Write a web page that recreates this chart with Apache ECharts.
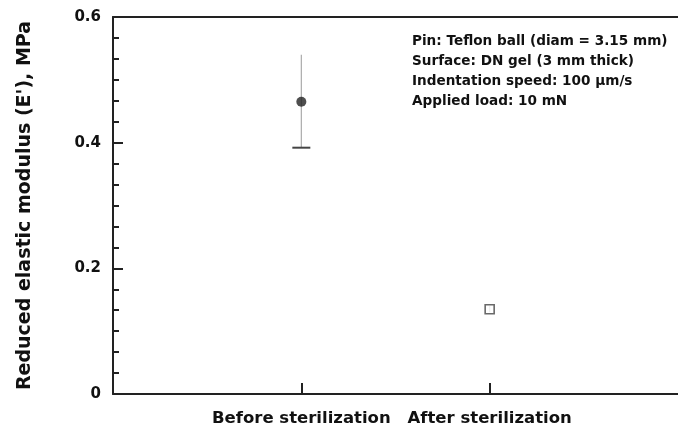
<!DOCTYPE html>
<html>
<head>
<meta charset="utf-8">
<script src="https://cdn.jsdelivr.net/npm/echarts@6/dist/echarts.min.js"></script>
<style>
html,body{margin:0;padding:0;background:#fff;}
#chart{width:678px;height:434px;}
</style>
</head>
<body>
<div id="chart"></div>
<script>
// Data
const categories = ['', 'Before sterilization', 'After sterilization', ''];
const meanValues = [0.465, 0.135];
const errLow = [0.392, 0.130];
const errHigh = [0.540, 0.140];
const yTicks = [0, 0.2, 0.4, 0.6];
const yAxisTitle = "Reduced elastic modulus (E'), MPa";
const notes = [
  'Pin: Teflon ball (diam = 3.15 mm)',
  'Surface: DN gel (3 mm thick)',
  'Indentation speed: 100 μm/s',
  'Applied load: 10 mN'
];

const font = 'DejaVu Sans, Liberation Sans, Arial, sans-serif';
const chart = echarts.init(document.getElementById('chart'), null, {renderer: 'canvas'});

const errData = meanValues.map((m, i) => [i + 1, errLow[i], errHigh[i]]);

chart.setOption({
  backgroundColor: '#fff',
  animation: false,
  grid: {left: 113, right: -2, top: 17, bottom: 40, containLabel: false},
  xAxis: [{
    type: 'category',
    data: categories,
    boundaryGap: false,
    axisLine: {lineStyle: {color: '#222', width: 2}},
    axisTick: {inside: true, length: 11, lineStyle: {color: '#222', width: 2},
      interval: (i) => i === 1 || i === 2},
    axisLabel: {interval: (i) => i === 1 || i === 2, color: '#111', fontFamily: font,
      fontWeight: 'bold', fontSize: 16.5, margin: 16},
    splitLine: {show: false}
  }, {
    type: 'category',
    position: 'top',
    data: categories,
    boundaryGap: false,
    axisLine: {lineStyle: {color: '#222', width: 2}},
    axisTick: {show: false},
    axisLabel: {show: false}
  }],
  yAxis: {
    type: 'value',
    min: 0, max: 0.6, interval: 0.2,
    name: yAxisTitle,
    nameLocation: 'middle',
    nameGap: 78,
    nameTextStyle: {color: '#111', fontFamily: font, fontWeight: 'bold', fontSize: 19},
    axisLine: {show: true, lineStyle: {color: '#222', width: 2}},
    axisTick: {show: true, inside: true, length: 10, lineStyle: {color: '#222', width: 2}},
    minorTick: {show: true, splitNumber: 6, length: 6, lineStyle: {color: '#222', width: 2}},
    axisLabel: {color: '#111', fontFamily: font, fontWeight: 'bold', fontSize: 15, margin: 12,
      formatter: (v) => yTicks.includes(Math.round(v * 10) / 10) ? (v === 0 ? '0' : v.toFixed(1)) : ''},
    splitLine: {show: false}
  },
  series: [{
    type: 'custom',
    data: errData,
    z: 2,
    renderItem: (params, api) => {
      const x = api.coord([api.value(0), 0])[0];
      const lo = api.coord([api.value(0), api.value(1)])[1];
      const hi = api.coord([api.value(0), api.value(2)])[1];
      const children = [{type: 'line', shape: {x1: x, y1: hi, x2: x, y2: lo},
        style: {stroke: '#aaa', lineWidth: 1.2}}];
      if (params.dataIndex === 0) {
        children.push({type: 'line', shape: {x1: x - 9, y1: lo, x2: x + 9, y2: lo},
          style: {stroke: '#444', lineWidth: 2}});
      }
      return {type: 'group', children};
    }
  }, {
    type: 'scatter',
    z: 3,
    data: [[1, meanValues[0]]],
    symbol: 'circle',
    symbolSize: 10,
    itemStyle: {color: '#222'}
  }, {
    type: 'scatter',
    z: 3,
    data: [[2, meanValues[1]]],
    symbol: 'rect',
    symbolSize: 9,
    itemStyle: {color: '#fff', borderColor: '#444', borderWidth: 1.6}
  }],
  graphic: notes.map((t, i) => ({
    type: 'text', left: 412, top: 34 + i * 20,
    style: {text: t, fill: '#111', font: 'bold 13.6px ' + font}
  }))
});
</script>
</body>
</html>
